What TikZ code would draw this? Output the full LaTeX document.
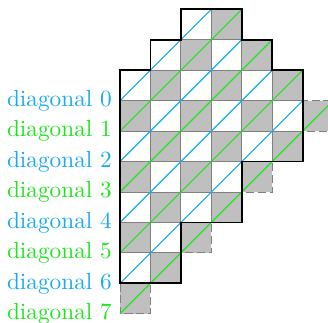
\documentclass[tikz,border=0pt]{standalone}
\usepackage{tikz}
\usetikzlibrary{calc}
\definecolor{diagblue}{RGB}{25,170,240}
\definecolor{diaggreen}{RGB}{30,230,30}

\begin{document}
\begin{tikzpicture}[
    x=0.46cm, y=0.46cm,
    cell/.style={draw=gray, line width=0.4pt},
    dark/.style={cell, fill=lightgray},
    light/.style={cell, fill=white},
    extra/.style={draw=gray, dash pattern=on 3.5pt off 1.5pt, fill=lightgray},
    outline/.style={draw=black, thick},
    diagline/.style={line width=0.5pt},
    lab/.style={anchor=east}
]
\useasboundingbox (-3.94,0.305) rectangle (6.83,-10.27);

\foreach \r/\cols in {0/{2,3}, 1/{1,2,3,4}, 2/{0,...,5}, 3/{0,...,5}, 4/{0,...,5},
                      5/{0,...,3}, 6/{0,...,3}, 7/{0,1}, 8/{0,1}}
  \foreach \c in \cols {
    \pgfmathtruncatemacro\odd{mod(\r+\c,2)}
    \ifnum\odd=1
      \path[dark] (\c,-\r) rectangle ++(1,-1);
    \else
      \path[light] (\c,-\r) rectangle ++(1,-1);
    \fi
  }

\foreach \r/\c in {3/6, 5/4, 7/2, 9/0}
  \path[extra] (\c,-\r) rectangle ++(1,-1);

\foreach \k/\len/\col in {0/3/diagblue, 1/4/diaggreen, 2/4/diagblue, 3/5/diaggreen,
                          4/5/diagblue, 5/6/diaggreen, 6/6/diagblue, 7/7/diaggreen} {
  \coordinate (s\k) at (0,-\k-3);
  \coordinate (e\k) at ($(s\k)+(\len,\len)$);
  \draw[diagline, \col] (s\k) -- (e\k);
  \node[lab, text=\col] (lab\k) at (s\k) {diagonal \k};
}

\draw[outline] (2,0) -- (4,0) -- (4,-1) -- (5,-1) -- (5,-2) -- (6,-2) -- (6,-5)
  -- (4,-5) -- (4,-7) -- (2,-7) -- (2,-9) -- (0,-9) -- (0,-2) -- (1,-2)
  -- (1,-1) -- (2,-1) -- cycle;
\end{tikzpicture}
\end{document}
